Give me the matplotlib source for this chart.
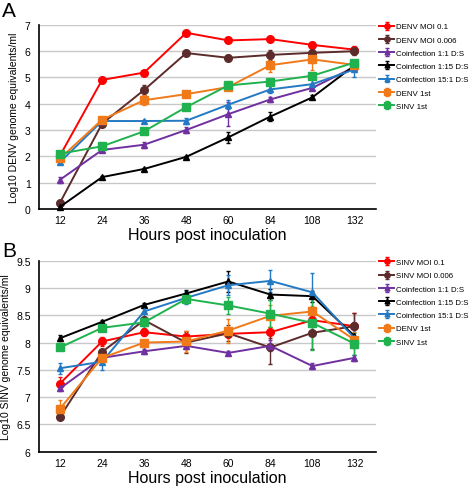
import matplotlib

matplotlib.use("Agg")
import matplotlib.pyplot as plt
import numpy as np

plt.rcParams["font.family"] = ["Liberation Sans", "DejaVu Sans"]

HOURS = ["12", "24", "36", "48", "60", "84", "108", "132"]

# Panel A: DENV genome equivalents (log10)
A_LABELS = ["DENV MOI 0.1", "DENV MOI 0.006", "Coinfection 1:1 D:S",
            "Coinfection 1:15 D:S", "Coinfection 15:1 D:S", "DENV 1st", "SINV 1st"]
A_VALS = [
    [2.03, 4.90, 5.18, 6.69, 6.40, 6.45, 6.23, 6.05],
    [0.24, 3.24, 4.52, 5.92, 5.74, 5.85, 5.93, 5.99],
    [1.11, 2.24, 2.44, 3.00, 3.60, 4.16, 4.60, 5.39],
    [0.08, 1.21, 1.52, 1.98, 2.72, 3.51, 4.24, 5.45],
    [1.78, 3.34, 3.34, 3.35, 3.96, 4.54, 4.74, 5.30],
    [1.92, 3.39, 4.13, 4.36, 4.63, 5.46, 5.68, 5.47],
    [2.10, 2.38, 2.95, 3.87, 4.69, 4.84, 5.06, 5.56],
]
A_ERR = [
    [0.05, 0.05, 0.05, 0.05, 0.05, 0.06, 0.12, 0.15],
    [0.05, 0.05, 0.20, 0.05, 0.12, 0.20, 0.15, 0.15],
    [0.12, 0.05, 0.12, 0.10, 0.45, 0.08, 0.10, 0.08],
    [0.05, 0.05, 0.05, 0.05, 0.20, 0.18, 0.08, 0.10],
    [0.05, 0.08, 0.05, 0.12, 0.18, 0.15, 0.20, 0.30],
    [0.05, 0.08, 0.20, 0.05, 0.10, 0.25, 0.40, 0.10],
    [0.05, 0.05, 0.05, 0.05, 0.05, 0.05, 0.10, 0.05],
]

# Panel B: SINV genome equivalents (log10)
B_LABELS = ["SINV MOI 0.1", "SINV MOI 0.006", "Coinfection 1:1 D:S",
            "Coinfection 1:15 D:S", "Coinfection 15:1 D:S", "DENV 1st", "SINV 1st"]
B_VALS = [
    [7.25, 8.02, 8.19, 8.11, 8.16, 8.19, 8.41, 8.30],
    [6.64, 7.83, 8.41, 8.00, 8.17, 7.91, 8.18, 8.30],
    [7.16, 7.72, 7.84, 7.94, 7.81, 7.94, 7.57, 7.72],
    [8.08, 8.38, 8.69, 8.90, 9.12, 8.88, 8.85, 8.12],
    [7.53, 7.65, 8.57, 8.82, 9.05, 9.13, 8.92, 8.08],
    [6.79, 7.72, 8.00, 8.02, 8.22, 8.49, 8.57, 8.05],
    [7.91, 8.27, 8.37, 8.80, 8.68, 8.53, 8.36, 7.98],
]
B_ERR = [
    [0.12, 0.08, 0.07, 0.10, 0.05, 0.10, 0.10, 0.25],
    [0.03, 0.05, 0.05, 0.20, 0.15, 0.30, 0.30, 0.25],
    [0.05, 0.05, 0.05, 0.05, 0.04, 0.10, 0.05, 0.06],
    [0.05, 0.03, 0.04, 0.07, 0.20, 0.10, 0.10, 0.20],
    [0.10, 0.15, 0.10, 0.12, 0.18, 0.20, 0.35, 0.30],
    [0.15, 0.05, 0.05, 0.20, 0.22, 0.20, 0.10, 0.15],
    [0.05, 0.05, 0.10, 0.08, 0.15, 0.25, 0.50, 0.20],
]

COLORS = ["#ff0000", "#5c2b2b", "#7030a0", "#000000", "#2479c4", "#f07a1a", "#1fb24e"]
MARKERS = ["o", "o", "^", "^", "^", "s", "s"]
MSIZES = [5.5, 5.5, 5, 5, 5, 6, 6]


def draw_panel(ax, vals, errs, labels, ylim, yticks, yticklabels, ylabel):
    x = np.arange(len(HOURS))
    for v, e, lab, c, m, ms in zip(vals, errs, labels, COLORS, MARKERS, MSIZES):
        ax.errorbar(x, v, yerr=e, color=c, marker=m, markersize=ms, linewidth=1.4,
                    elinewidth=1.0, capsize=1.5, label=lab, clip_on=False, zorder=3)
    ax.set_xlim(-0.5, 7.5)
    ax.set_ylim(*ylim)
    ax.set_xticks(x)
    ax.set_xticklabels(HOURS, fontsize=7.5)
    ax.set_yticks(yticks)
    ax.set_yticklabels(yticklabels, fontsize=7.5)
    ax.tick_params(axis="x", length=0, pad=4.5)
    ax.tick_params(axis="y", length=0, pad=6)
    ax.grid(axis="y", color="#c8c8c8", linewidth=1.0)
    ax.set_axisbelow(True)
    for s in ("top", "right"):
        ax.spines[s].set_visible(False)
    for s in ("left", "bottom"):
        ax.spines[s].set_linewidth(1.2)
    ax.set_ylabel(ylabel, fontsize=7.5, labelpad=4)
    ax.set_xlabel("Hours post inoculation", fontsize=11.5, labelpad=1.5)
    ax.legend(loc="upper left", bbox_to_anchor=(0.995, 1.04), frameon=False, fontsize=5.7,
              handlelength=1.9, handletextpad=0.2, labelspacing=0.72, borderaxespad=0.3,
              markerscale=0.7)


fig = plt.figure(figsize=(4.72, 4.89), dpi=100)
ax_a = fig.add_axes([0.0826, 0.5706, 0.713, 0.377])
ax_b = fig.add_axes([0.0826, 0.0742, 0.713, 0.3906])

draw_panel(ax_a, A_VALS, A_ERR, A_LABELS, (0, 7), range(0, 8), [str(i) for i in range(8)],
           "Log10 DENV genome equivalents/ml")
bt = np.arange(6, 9.51, 0.5)
draw_panel(ax_b, B_VALS, B_ERR, B_LABELS, (6, 9.5), bt, [f"{t:g}" for t in bt],
           "Log10 SINV genome equivalents/ml")

fig.text(0.005, 0.995, "A", fontsize=15, va="top", ha="left")
fig.text(0.005, 0.505, "B", fontsize=15, va="top", ha="left")

fig.savefig("out.png", dpi=100)
